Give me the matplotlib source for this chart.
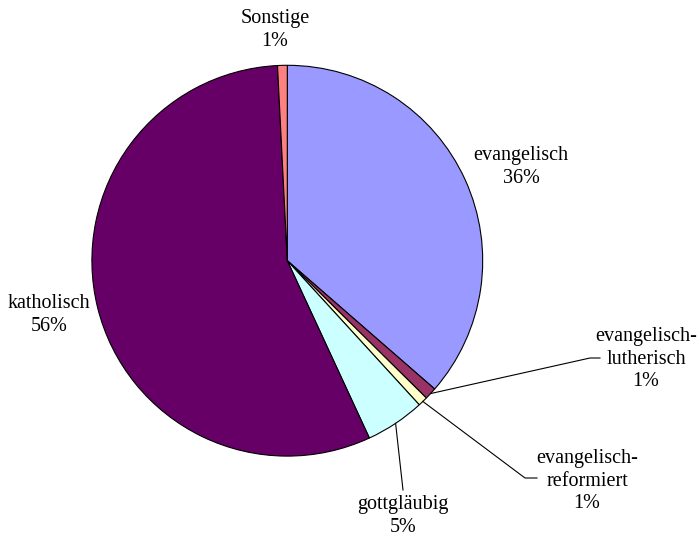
import numpy as np
import matplotlib.pyplot as plt

plt.rcParams['font.family'] = ['Liberation Serif', 'DejaVu Serif']

# Konfessionen, im Uhrzeigersinn ab 12 Uhr
labels = ["evangelisch", "evangelisch-\nlutherisch", "evangelisch-\nreformiert",
          "gottgläubig", "katholisch", "Sonstige"]
shares = [36.4, 1.0, 0.8, 4.9, 56.1, 0.8]
colors = ["#9999FF", "#993366", "#FFFFCC", "#CCFFFF", "#660066", "#FF8080"]

# pie centre and radius in pixels, used to place labels
W, H = 698, 538
cx, cy, R = 287.3, 260.7, 195.4


def px(x, y):
    return (x - cx) / R, (cy - y) / R


fig = plt.figure(figsize=(W / 100, H / 100), dpi=100)
ax = fig.add_axes([0, 0, 1, 1])

wedges, _ = ax.pie(shares, colors=colors, startangle=90, counterclock=False,
                   radius=1, wedgeprops=dict(edgecolor="black", linewidth=0.8))

# label centres (pixels) and optional leader line elbows
label_pos = [(521, 167), (646, 359), (587, 481), (403, 516), (49, 315), (275, 30)]
leaders = {1: [(590, 358), (600, 358)],
           2: [(525, 478), (537, 478)],
           3: [(403, 490)]}

for i, (lab, val) in enumerate(zip(labels, shares)):
    x, y = px(*label_pos[i])
    ax.text(x, y, f"{lab}\n{round(val):.0f}%", ha="center", va="center",
            fontsize=14.5, linespacing=1.25)
    if i in leaders:
        w = wedges[i]
        a = np.deg2rad((w.theta1 + w.theta2) / 2)
        pts = [(np.cos(a), np.sin(a))] + [px(*p) for p in leaders[i]]
        xs, ys = zip(*pts)
        ax.plot(xs, ys, color="black", linewidth=0.8)

ax.set_xlim(-cx / R, (W - cx) / R)
ax.set_ylim((cy - H) / R, cy / R)
ax.set_aspect("auto")
ax.axis("off")

fig.savefig("out.png", dpi=100)
